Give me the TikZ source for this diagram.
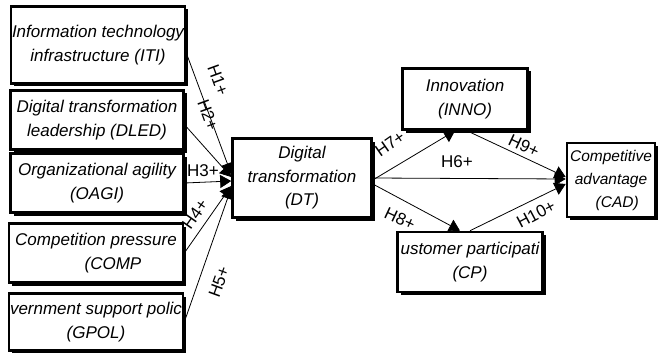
\documentclass[tikz,border=0pt]{standalone}
\usepackage{fontspec}
\setmainfont{Liberation Sans}
\usetikzlibrary{arrows.meta,shadows,calc}
\begin{document}
\begin{tikzpicture}[x=1pt,y=-1pt,
 box/.style={draw,line width=2.6pt,fill=white,align=center,inner sep=0pt,
   font=\fontsize{17}{23.5}\selectfont\itshape,
   drop shadow={opacity=1,shadow xshift=3pt,shadow yshift=-3pt,fill=black}},
 link/.style={line width=0.8pt,-{Triangle[length=11pt,width=13pt]}},
 lab/.style={font=\fontsize{17}{18}\selectfont,inner sep=0pt}]
\useasboundingbox (0,0) rectangle (659,353);
% left boxes
\node[box,minimum width=174pt,minimum height=77pt] (ITI) at (98,45) {Information technology\\infrastructure (ITI)};
\node[box,minimum width=173pt,minimum height=59pt] (DLED) at (97,120) {Digital transformation\\leadership (DLED)};
\node[box,minimum width=173pt,minimum height=59pt] (OAGI) at (97,183) {Organizational agility\\(OAGI)};
\node[box,minimum width=174pt,minimum height=59pt] (COMP) at (96,253) {Competition pressure\\\hspace*{2em}(COMP};
\node[box,minimum width=174pt,minimum height=57pt] (GPOL) at (96,322) {vernment support polic\\(GPOL)};
% middle / right boxes
\node[box,minimum width=139pt,minimum height=79pt] (DT) at (302,178) {Digital\\transformation\\(DT)};
\node[box,minimum width=125pt,minimum height=61pt] (INNO) at (465,99) {Innovation\\(INNO)};
\node[box,minimum width=88pt,minimum height=74pt,font=\fontsize{15.5}{23}\selectfont\itshape] (CAD) at (611,180) {Competitive\\advantage\\\hspace*{0.8em}(CAD)};
\node[box,minimum width=145pt,minimum height=60pt] (CP) at (470,262) {ustomer participati\\(CP)};
% connectors into DT
\draw[link] ($(ITI.east)+(0,8)$) -- ($(DT.west)+(0,-4)$);
\draw[link] ($(DLED.east)+(0,5)$) -- ($(DT.west)+(0,-1)$);
\draw[link] ($(OAGI.east)$) -- ($(DT.west)+(0,3)$);
\draw[link] ($(COMP.east)$) -- ($(DT.west)+(0,8)$);
\draw[link] ($(GPOL.east)$) -- ($(DT.west)+(0,10)$);
% connectors out of DT
\draw[link] ($(DT.east)+(0,2)$) -- ($(INNO.south)+(-10,0)$);
\draw[link] ($(DT.east)$) -- ($(CAD.west)+(0,-1)$);
\draw[link] ($(DT.east)+(0,6)$) -- ($(CP.north)+(-10,0)$);
\draw[link] ($(INNO.south)+(2,0)$) -- ($(CAD.west)+(0,-3)$);
\draw[link] ($(CP.north)+(0,0)$) -- ($(CAD.west)+(0,4)$);
% labels
\node[lab,rotate=-70] at (218,80) {H1+};
\node[lab,rotate=-70] at (208,115) {H2+};
\node[lab] at (203,171) {H3+};
\node[lab,rotate=55] at (195,214) {H4+};
\node[lab,rotate=70] at (219,282) {H5+};
\node[lab,rotate=35] at (390,144) {H7+};
\node[lab] at (457,162) {H6+};
\node[lab,rotate=-25] at (400,219) {H8+};
\node[lab,rotate=-25] at (524,146) {H9+};
\node[lab,rotate=28] at (536,214) {H10+};
\end{tikzpicture}
\end{document}
